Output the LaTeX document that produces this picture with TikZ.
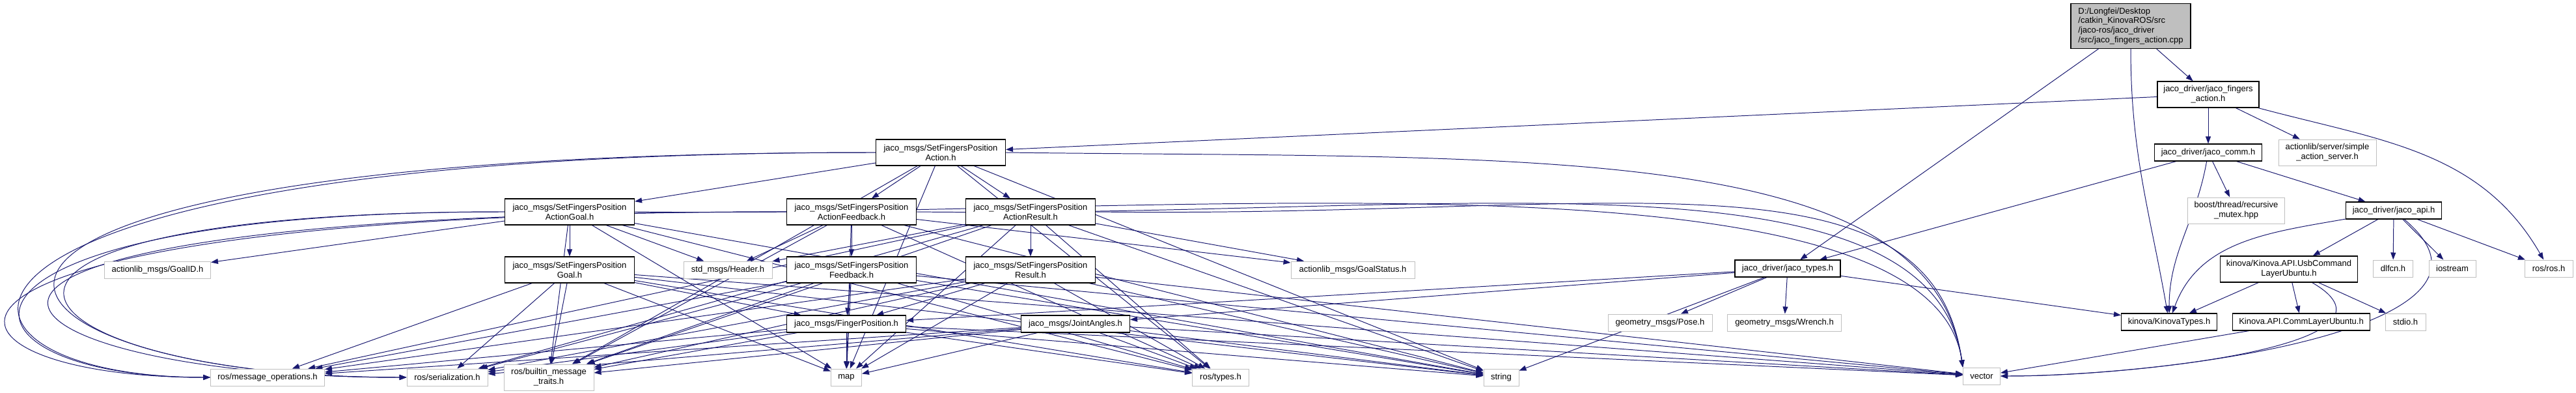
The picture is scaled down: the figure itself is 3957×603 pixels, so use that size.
\documentclass[tikz,border=0pt]{standalone}
\usepackage{fontspec}
\setmainfont{Liberation Sans}
\definecolor{DEdge}{HTML}{191970}
\definecolor{DGrey}{HTML}{BFBFBF}
\usetikzlibrary{arrows.meta,backgrounds}

\tikzset{
  hbox/.style={rectangle,draw=black,fill=white,line width=0.8pt,inner sep=0pt,
               minimum height=6.5mm,align=center,
               font=\fontsize{9.25pt}{10.6pt}\selectfont},
  xbox/.style={hbox,draw=DGrey,line width=0.7pt},
  tall/.style={minimum height=10mm},
  dep/.style={draw=DEdge,line width=0.7pt,-{Triangle[length=2.75mm,width=2mm]}},
}

\begin{document}
\begin{tikzpicture}[x=0.25mm,y=-0.25mm]
  \useasboundingbox (0,0) rectangle (3957,603);

  % file and the headers of jaco_driver
  \node[hbox,fill=DGrey,minimum width=46mm,minimum height=17.25mm,align=left] (root) at (3273,40)
    {D:/Longfei/Desktop\\/catkin\_KinovaROS/src\\/jaco-ros/jaco\_driver\\/src/jaco\_fingers\_action.cpp};
  \node[hbox,tall,minimum width=39mm] (fingers) at (3392,145) {jaco\_driver/jaco\_fingers\\\_action.h};
  \node[hbox,minimum width=41.25mm] (comm) at (3392,234) {jaco\_driver/jaco\_comm.h};
  \node[xbox,tall,minimum width=37.5mm] (server) at (3575,234) {actionlib/server/simple\\\_action\_server.h};
  \node[xbox,tall,minimum width=37.25mm] (mutex) at (3435,323) {boost/thread/recursive\\\_mutex.hpp};
  \node[hbox,minimum width=36.75mm] (api) at (3677,323) {jaco\_driver/jaco\_api.h};
  \node[hbox,minimum width=40.5mm] (types) at (2746,412) {jaco\_driver/jaco\_types.h};
  \node[hbox,tall,minimum width=52.75mm] (usb) at (3516,413) {kinova/Kinova.API.UsbCommand\\LayerUbuntu.h};
  \node[xbox,minimum width=15.25mm] (dlfcn) at (3676,412) {dlfcn.h};
  \node[xbox,minimum width=18mm] (iostream) at (3767,412) {iostream};
  \node[xbox,minimum width=18.5mm] (rosh) at (3915,412) {ros/ros.h};
  \node[xbox,minimum width=40mm] (pose) at (2550,495) {geometry\_msgs/Pose.h};
  \node[xbox,minimum width=43.75mm] (wrench) at (2741,495) {geometry\_msgs/Wrench.h};
  \node[hbox,minimum width=36.75mm] (kintypes) at (3332,494) {kinova/KinovaTypes.h};
  \node[hbox,minimum width=52.75mm] (commlayer) at (3535,494) {Kinova.API.CommLayerUbuntu.h};
  \node[xbox,minimum width=15.5mm] (stdio) at (3695,494) {stdio.h};

  % jaco_msgs headers
  \node[hbox,tall,minimum width=49.75mm] (action) at (1445,234) {jaco\_msgs/SetFingersPosition\\Action.h};
  \node[hbox,tall,minimum width=49.75mm] (agoal) at (875,325) {jaco\_msgs/SetFingersPosition\\ActionGoal.h};
  \node[hbox,tall,minimum width=49.75mm] (afeed) at (1308,325) {jaco\_msgs/SetFingersPosition\\ActionFeedback.h};
  \node[hbox,tall,minimum width=49.75mm] (aresult) at (1583,325) {jaco\_msgs/SetFingersPosition\\ActionResult.h};
  \node[xbox,minimum width=40.75mm] (goalid) at (242,414) {actionlib\_msgs/GoalID.h};
  \node[hbox,tall,minimum width=49.75mm] (goal) at (875,414) {jaco\_msgs/SetFingersPosition\\Goal.h};
  \node[xbox,minimum width=34mm] (header) at (1118,414) {std\_msgs/Header.h};
  \node[hbox,tall,minimum width=49.75mm] (feed) at (1308,414) {jaco\_msgs/SetFingersPosition\\Feedback.h};
  \node[hbox,tall,minimum width=49.75mm] (result) at (1583,414) {jaco\_msgs/SetFingersPosition\\Result.h};
  \node[xbox,minimum width=47.5mm] (status) at (2078,414) {actionlib\_msgs/GoalStatus.h};
  \node[hbox,minimum width=45.75mm] (fingerpos) at (1300,497) {jaco\_msgs/FingerPosition.h};
  \node[hbox,minimum width=41.75mm] (joint) at (1652,497) {jaco\_msgs/JointAngles.h};

  % system and ros headers
  \node[xbox,minimum width=43.75mm] (msgops) at (411,579) {ros/message\_operations.h};
  \node[xbox,minimum width=31mm] (serial) at (687,579) {ros/serialization.h};
  \node[xbox,tall,minimum width=34.5mm] (builtin) at (843,579) {ros/builtin\_message\\\_traits.h};
  \node[xbox,minimum width=11.75mm] (map) at (1300,579) {map};
  \node[xbox,minimum width=21.75mm] (rtypes) at (1875,579) {ros/types.h};
  \node[xbox,minimum width=13.5mm] (string) at (2306,579) {string};
  \node[xbox,minimum width=14.25mm] (vector) at (3044,577) {vector};

  \begin{scope}[on background layer]
    % includes of the source file
    \draw[dep] (root) -- (fingers);
    \draw[dep] (root) -- (types);
    \draw[dep] (root) to[out=-90,in=100] (kintypes);
    \draw[dep] (fingers) -- (action);
    \draw[dep] (fingers) -- (comm);
    \draw[dep] (fingers) -- (server);
    \draw[dep] (fingers) to[out=-15,in=120] (rosh);
    \draw[dep] (comm) -- (types);
    \draw[dep] (comm) to[out=-100,in=90] (kintypes);
    \draw[dep] (comm) -- (mutex);
    \draw[dep] (comm) -- (api);
    \draw[dep] (api) to[out=190,in=70] (kintypes);
    \foreach \dst in {usb,dlfcn,iostream,rosh}
      \draw[dep] (api) -- (\dst);
    \draw[dep] (api) to[out=-40,in=0] (vector);
    \foreach \dst in {kintypes,commlayer,stdio}
      \draw[dep] (usb) -- (\dst);
    \draw[dep] (usb) to[out=-30,in=0] (vector);
    \draw[dep] (commlayer) -- (vector);
    \foreach \dst in {joint,fingerpos,pose,wrench,kintypes,string}
      \draw[dep] (types) -- (\dst);

    % message headers
    \foreach \dst in {agoal,afeed,aresult}
      \draw[dep] (action) -- (\dst);
    \foreach \dst in {header,goalid,goal}
      \draw[dep] (agoal) -- (\dst);
    \foreach \dst in {header,status,feed}
      \draw[dep] (afeed) -- (\dst);
    \foreach \dst in {header,status,result}
      \draw[dep] (aresult) -- (\dst);
    \foreach \src in {goal,feed,result}
      \draw[dep] (\src) -- (fingerpos);

    % the ros includes every message header pulls in
    \foreach \src in {goal,feed,result,fingerpos,joint}
      \foreach \dst in {msgops,serial,builtin,map,rtypes,string,vector}
        \draw[dep] (\src) -- (\dst);
    \foreach \src in {action,agoal,afeed,aresult}
      \foreach \dst in {builtin,map,rtypes,string}
        \draw[dep] (\src) -- (\dst);
    \foreach \src in {action,agoal,afeed,aresult}
      \draw[dep] (\src.east) .. controls +(800,10) and +(-50,-350) .. (vector.north west);
    \draw[dep] (aresult) -- (msgops);
    \draw[dep] (aresult) -- (serial);
    % loops round the left side
    \draw[dep] (action.west) .. controls +(-1546,0) and +(-474,0) .. (msgops.west);
    \draw[dep] (agoal.west) .. controls +(-926,0) and +(-424,0) .. (msgops.west);
    \draw[dep] (afeed.west) .. controls +(-1459,0) and +(-474,0) .. (msgops.west);
    \draw[dep] (action.west) .. controls +(-1646,0) and +(-725,0) .. (serial.west);
    \draw[dep] (agoal.west) .. controls +(-976,0) and +(-625,0) .. (serial.west);
    \draw[dep] (afeed.west) .. controls +(-1559,0) and +(-675,0) .. (serial.west);
  \end{scope}
\end{tikzpicture}
\end{document}
